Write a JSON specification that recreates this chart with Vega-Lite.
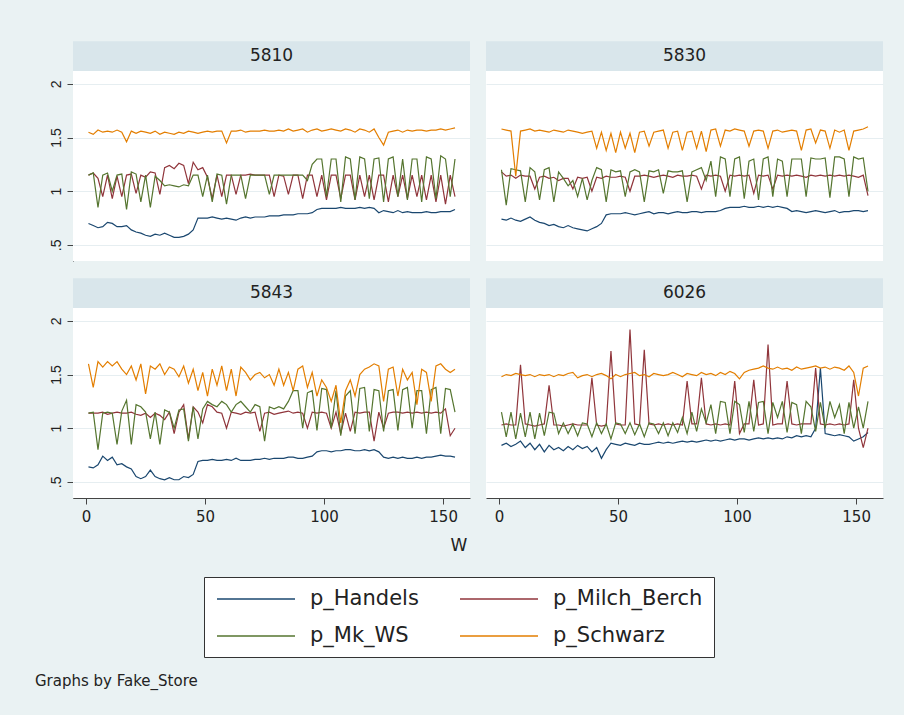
{
"$schema":"https://vega.github.io/schema/vega-lite/v6.json",
"background":"#EAF2F3",
"padding":{"left":35,"top":41,"right":21,"bottom":42},
"datasets":{"prices":[
{"f":"5810","w":1,"a":0.70,"b":1.15,"c":1.15,"d":1.55},
{"f":"5810","w":3,"a":0.68,"b":1.17,"c":1.17,"d":1.53},
{"f":"5810","w":5,"a":0.66,"b":1.12,"c":0.85,"d":1.57},
{"f":"5810","w":7,"a":0.67,"b":0.95,"c":1.15,"d":1.55},
{"f":"5810","w":9,"a":0.71,"b":1.15,"c":1.17,"d":1.56},
{"f":"5810","w":11,"a":0.70,"b":0.93,"c":1.00,"d":1.55},
{"f":"5810","w":13,"a":0.67,"b":1.14,"c":1.15,"d":1.57},
{"f":"5810","w":15,"a":0.67,"b":0.95,"c":1.16,"d":1.55},
{"f":"5810","w":17,"a":0.68,"b":1.15,"c":0.83,"d":1.46},
{"f":"5810","w":19,"a":0.64,"b":1.16,"c":1.18,"d":1.56},
{"f":"5810","w":21,"a":0.62,"b":0.98,"c":1.16,"d":1.54},
{"f":"5810","w":23,"a":0.61,"b":1.15,"c":0.90,"d":1.56},
{"f":"5810","w":25,"a":0.59,"b":1.13,"c":1.15,"d":1.55},
{"f":"5810","w":27,"a":0.58,"b":1.18,"c":0.85,"d":1.54},
{"f":"5810","w":29,"a":0.60,"b":1.17,"c":1.14,"d":1.56},
{"f":"5810","w":31,"a":0.59,"b":0.97,"c":1.10,"d":1.53},
{"f":"5810","w":33,"a":0.61,"b":1.22,"c":1.05,"d":1.55},
{"f":"5810","w":35,"a":0.59,"b":1.24,"c":1.06,"d":1.54},
{"f":"5810","w":37,"a":0.57,"b":1.21,"c":1.05,"d":1.53},
{"f":"5810","w":39,"a":0.57,"b":1.26,"c":1.04,"d":1.55},
{"f":"5810","w":41,"a":0.58,"b":1.24,"c":1.06,"d":1.54},
{"f":"5810","w":43,"a":0.60,"b":1.07,"c":1.05,"d":1.56},
{"f":"5810","w":45,"a":0.64,"b":1.27,"c":1.15,"d":1.55},
{"f":"5810","w":47,"a":0.75,"b":1.20,"c":1.15,"d":1.54},
{"f":"5810","w":49,"a":0.75,"b":1.22,"c":0.95,"d":1.55},
{"f":"5810","w":51,"a":0.75,"b":1.13,"c":1.15,"d":1.56},
{"f":"5810","w":53,"a":0.76,"b":0.93,"c":0.90,"d":1.55},
{"f":"5810","w":55,"a":0.75,"b":1.15,"c":1.16,"d":1.56},
{"f":"5810","w":57,"a":0.74,"b":0.95,"c":1.15,"d":1.56},
{"f":"5810","w":59,"a":0.75,"b":1.15,"c":0.88,"d":1.45},
{"f":"5810","w":61,"a":0.74,"b":1.15,"c":1.15,"d":1.56},
{"f":"5810","w":63,"a":0.73,"b":0.97,"c":1.15,"d":1.56},
{"f":"5810","w":65,"a":0.75,"b":1.15,"c":1.15,"d":1.57},
{"f":"5810","w":67,"a":0.76,"b":1.15,"c":0.93,"d":1.55},
{"f":"5810","w":69,"a":0.75,"b":1.16,"c":1.15,"d":1.56},
{"f":"5810","w":71,"a":0.76,"b":1.15,"c":1.15,"d":1.56},
{"f":"5810","w":73,"a":0.76,"b":1.15,"c":1.15,"d":1.56},
{"f":"5810","w":75,"a":0.76,"b":1.15,"c":1.15,"d":1.57},
{"f":"5810","w":77,"a":0.77,"b":1.15,"c":0.97,"d":1.56},
{"f":"5810","w":79,"a":0.77,"b":0.95,"c":1.15,"d":1.56},
{"f":"5810","w":81,"a":0.77,"b":1.15,"c":1.15,"d":1.57},
{"f":"5810","w":83,"a":0.78,"b":1.14,"c":1.15,"d":1.56},
{"f":"5810","w":85,"a":0.78,"b":0.97,"c":1.15,"d":1.58},
{"f":"5810","w":87,"a":0.78,"b":1.15,"c":1.15,"d":1.56},
{"f":"5810","w":89,"a":0.79,"b":1.15,"c":1.15,"d":1.57},
{"f":"5810","w":91,"a":0.79,"b":0.93,"c":1.15,"d":1.58},
{"f":"5810","w":93,"a":0.79,"b":1.15,"c":1.10,"d":1.55},
{"f":"5810","w":95,"a":0.80,"b":1.15,"c":1.25,"d":1.57},
{"f":"5810","w":97,"a":0.83,"b":0.95,"c":1.30,"d":1.58},
{"f":"5810","w":99,"a":0.84,"b":1.15,"c":1.30,"d":1.56},
{"f":"5810","w":101,"a":0.84,"b":0.92,"c":0.95,"d":1.57},
{"f":"5810","w":103,"a":0.84,"b":1.15,"c":1.30,"d":1.58},
{"f":"5810","w":105,"a":0.84,"b":1.15,"c":1.30,"d":1.57},
{"f":"5810","w":107,"a":0.85,"b":0.93,"c":0.90,"d":1.56},
{"f":"5810","w":109,"a":0.84,"b":1.15,"c":1.32,"d":1.58},
{"f":"5810","w":111,"a":0.84,"b":1.15,"c":1.30,"d":1.57},
{"f":"5810","w":113,"a":0.84,"b":0.92,"c":0.92,"d":1.55},
{"f":"5810","w":115,"a":0.85,"b":1.15,"c":1.32,"d":1.58},
{"f":"5810","w":117,"a":0.84,"b":0.95,"c":1.30,"d":1.57},
{"f":"5810","w":119,"a":0.85,"b":1.15,"c":0.93,"d":1.55},
{"f":"5810","w":121,"a":0.84,"b":0.92,"c":1.30,"d":1.58},
{"f":"5810","w":123,"a":0.80,"b":1.15,"c":1.31,"d":1.50},
{"f":"5810","w":125,"a":0.82,"b":1.15,"c":0.90,"d":1.43},
{"f":"5810","w":127,"a":0.81,"b":0.90,"c":1.30,"d":1.55},
{"f":"5810","w":129,"a":0.80,"b":1.15,"c":1.32,"d":1.56},
{"f":"5810","w":131,"a":0.82,"b":0.95,"c":0.95,"d":1.57},
{"f":"5810","w":133,"a":0.80,"b":1.15,"c":1.30,"d":1.55},
{"f":"5810","w":135,"a":0.81,"b":0.93,"c":0.92,"d":1.57},
{"f":"5810","w":137,"a":0.80,"b":1.15,"c":1.30,"d":1.56},
{"f":"5810","w":139,"a":0.80,"b":0.95,"c":1.30,"d":1.57},
{"f":"5810","w":141,"a":0.80,"b":1.15,"c":0.90,"d":1.57},
{"f":"5810","w":143,"a":0.81,"b":0.92,"c":1.32,"d":1.56},
{"f":"5810","w":145,"a":0.80,"b":1.15,"c":1.30,"d":1.57},
{"f":"5810","w":147,"a":0.80,"b":0.90,"c":0.93,"d":1.57},
{"f":"5810","w":149,"a":0.81,"b":1.15,"c":1.33,"d":1.58},
{"f":"5810","w":151,"a":0.81,"b":0.88,"c":1.30,"d":1.57},
{"f":"5810","w":153,"a":0.81,"b":1.15,"c":0.95,"d":1.58},
{"f":"5810","w":155,"a":0.83,"b":0.95,"c":1.30,"d":1.59},
{"f":"5830","w":1,"a":0.74,"b":1.18,"c":1.20,"d":1.58},
{"f":"5830","w":3,"a":0.73,"b":1.14,"c":0.87,"d":1.57},
{"f":"5830","w":5,"a":0.75,"b":1.15,"c":1.21,"d":1.56},
{"f":"5830","w":7,"a":0.73,"b":1.12,"c":1.20,"d":1.14},
{"f":"5830","w":9,"a":0.72,"b":1.15,"c":1.19,"d":1.56},
{"f":"5830","w":11,"a":0.74,"b":1.14,"c":0.90,"d":1.57},
{"f":"5830","w":13,"a":0.76,"b":1.14,"c":1.22,"d":1.58},
{"f":"5830","w":15,"a":0.73,"b":1.02,"c":1.18,"d":1.56},
{"f":"5830","w":17,"a":0.71,"b":1.13,"c":0.92,"d":1.57},
{"f":"5830","w":19,"a":0.70,"b":1.14,"c":1.20,"d":1.56},
{"f":"5830","w":21,"a":0.68,"b":1.12,"c":1.22,"d":1.55},
{"f":"5830","w":23,"a":0.69,"b":1.13,"c":0.90,"d":1.57},
{"f":"5830","w":25,"a":0.67,"b":1.10,"c":1.18,"d":1.56},
{"f":"5830","w":27,"a":0.66,"b":1.12,"c":1.12,"d":1.55},
{"f":"5830","w":29,"a":0.68,"b":1.12,"c":1.05,"d":1.57},
{"f":"5830","w":31,"a":0.66,"b":1.02,"c":1.10,"d":1.56},
{"f":"5830","w":33,"a":0.65,"b":1.13,"c":0.95,"d":1.55},
{"f":"5830","w":35,"a":0.64,"b":1.12,"c":1.12,"d":1.54},
{"f":"5830","w":37,"a":0.63,"b":1.13,"c":0.92,"d":1.55},
{"f":"5830","w":39,"a":0.65,"b":1.00,"c":1.10,"d":1.56},
{"f":"5830","w":41,"a":0.67,"b":1.13,"c":1.22,"d":1.40},
{"f":"5830","w":43,"a":0.70,"b":1.12,"c":1.20,"d":1.55},
{"f":"5830","w":45,"a":0.78,"b":1.14,"c":0.90,"d":1.38},
{"f":"5830","w":47,"a":0.79,"b":1.13,"c":1.20,"d":1.54},
{"f":"5830","w":49,"a":0.79,"b":1.13,"c":1.18,"d":1.36},
{"f":"5830","w":51,"a":0.79,"b":1.14,"c":1.19,"d":1.55},
{"f":"5830","w":53,"a":0.80,"b":1.13,"c":0.95,"d":1.40},
{"f":"5830","w":55,"a":0.79,"b":1.00,"c":1.18,"d":1.54},
{"f":"5830","w":57,"a":0.78,"b":1.14,"c":1.20,"d":1.36},
{"f":"5830","w":59,"a":0.79,"b":1.14,"c":1.18,"d":1.55},
{"f":"5830","w":61,"a":0.80,"b":1.15,"c":0.90,"d":1.56},
{"f":"5830","w":63,"a":0.81,"b":1.14,"c":1.19,"d":1.42},
{"f":"5830","w":65,"a":0.79,"b":1.13,"c":1.18,"d":1.55},
{"f":"5830","w":67,"a":0.80,"b":1.14,"c":1.20,"d":1.56},
{"f":"5830","w":69,"a":0.80,"b":1.15,"c":0.98,"d":1.57},
{"f":"5830","w":71,"a":0.79,"b":1.14,"c":1.19,"d":1.40},
{"f":"5830","w":73,"a":0.80,"b":1.13,"c":1.18,"d":1.55},
{"f":"5830","w":75,"a":0.81,"b":1.15,"c":1.18,"d":1.56},
{"f":"5830","w":77,"a":0.80,"b":1.14,"c":1.19,"d":1.38},
{"f":"5830","w":79,"a":0.80,"b":1.14,"c":0.90,"d":1.55},
{"f":"5830","w":81,"a":0.81,"b":1.15,"c":1.18,"d":1.56},
{"f":"5830","w":83,"a":0.81,"b":1.14,"c":1.20,"d":1.40},
{"f":"5830","w":85,"a":0.80,"b":1.02,"c":1.22,"d":1.56},
{"f":"5830","w":87,"a":0.81,"b":1.15,"c":1.10,"d":1.37},
{"f":"5830","w":89,"a":0.81,"b":1.14,"c":1.28,"d":1.57},
{"f":"5830","w":91,"a":0.81,"b":1.15,"c":0.95,"d":1.58},
{"f":"5830","w":93,"a":0.82,"b":1.14,"c":1.32,"d":1.42},
{"f":"5830","w":95,"a":0.84,"b":1.00,"c":1.30,"d":1.57},
{"f":"5830","w":97,"a":0.85,"b":1.15,"c":0.95,"d":1.56},
{"f":"5830","w":99,"a":0.85,"b":1.14,"c":1.30,"d":1.58},
{"f":"5830","w":101,"a":0.85,"b":1.15,"c":1.32,"d":1.57},
{"f":"5830","w":103,"a":0.86,"b":1.14,"c":0.93,"d":1.56},
{"f":"5830","w":105,"a":0.85,"b":1.15,"c":1.28,"d":1.42},
{"f":"5830","w":107,"a":0.85,"b":0.98,"c":1.30,"d":1.56},
{"f":"5830","w":109,"a":0.86,"b":1.15,"c":0.92,"d":1.57},
{"f":"5830","w":111,"a":0.85,"b":1.14,"c":1.30,"d":1.56},
{"f":"5830","w":113,"a":0.86,"b":1.15,"c":1.32,"d":1.40},
{"f":"5830","w":115,"a":0.85,"b":1.02,"c":0.95,"d":1.56},
{"f":"5830","w":117,"a":0.86,"b":1.15,"c":1.30,"d":1.57},
{"f":"5830","w":119,"a":0.85,"b":1.14,"c":1.28,"d":1.55},
{"f":"5830","w":121,"a":0.84,"b":1.15,"c":0.95,"d":1.56},
{"f":"5830","w":123,"a":0.81,"b":1.14,"c":1.30,"d":1.57},
{"f":"5830","w":125,"a":0.82,"b":1.15,"c":1.30,"d":1.56},
{"f":"5830","w":127,"a":0.81,"b":1.14,"c":1.30,"d":1.38},
{"f":"5830","w":129,"a":0.80,"b":1.13,"c":0.95,"d":1.57},
{"f":"5830","w":131,"a":0.81,"b":1.15,"c":1.31,"d":1.58},
{"f":"5830","w":133,"a":0.82,"b":1.14,"c":1.30,"d":1.45},
{"f":"5830","w":135,"a":0.81,"b":1.15,"c":1.30,"d":1.57},
{"f":"5830","w":137,"a":0.80,"b":1.14,"c":1.31,"d":1.56},
{"f":"5830","w":139,"a":0.81,"b":1.15,"c":0.94,"d":1.40},
{"f":"5830","w":141,"a":0.82,"b":1.14,"c":1.32,"d":1.57},
{"f":"5830","w":143,"a":0.80,"b":1.15,"c":1.32,"d":1.55},
{"f":"5830","w":145,"a":0.81,"b":1.14,"c":1.30,"d":1.57},
{"f":"5830","w":147,"a":0.81,"b":1.15,"c":0.95,"d":1.38},
{"f":"5830","w":149,"a":0.82,"b":1.14,"c":1.32,"d":1.56},
{"f":"5830","w":151,"a":0.82,"b":1.13,"c":1.30,"d":1.57},
{"f":"5830","w":153,"a":0.81,"b":1.15,"c":1.31,"d":1.58},
{"f":"5830","w":155,"a":0.82,"b":0.96,"c":1.00,"d":1.60},
{"f":"5843","w":1,"a":0.64,"b":1.14,"c":1.14,"d":1.60},
{"f":"5843","w":3,"a":0.63,"b":1.14,"c":1.15,"d":1.38},
{"f":"5843","w":5,"a":0.66,"b":1.14,"c":0.80,"d":1.62},
{"f":"5843","w":7,"a":0.74,"b":1.15,"c":1.14,"d":1.57},
{"f":"5843","w":9,"a":0.70,"b":1.13,"c":1.15,"d":1.62},
{"f":"5843","w":11,"a":0.73,"b":1.14,"c":1.14,"d":1.58},
{"f":"5843","w":13,"a":0.66,"b":1.15,"c":0.85,"d":1.62},
{"f":"5843","w":15,"a":0.67,"b":1.14,"c":1.16,"d":1.55},
{"f":"5843","w":17,"a":0.64,"b":1.14,"c":1.26,"d":1.50},
{"f":"5843","w":19,"a":0.62,"b":1.15,"c":0.85,"d":1.58},
{"f":"5843","w":21,"a":0.55,"b":1.13,"c":1.22,"d":1.45},
{"f":"5843","w":23,"a":0.53,"b":1.12,"c":1.20,"d":1.60},
{"f":"5843","w":25,"a":0.55,"b":1.14,"c":1.15,"d":1.32},
{"f":"5843","w":27,"a":0.61,"b":1.10,"c":0.90,"d":1.58},
{"f":"5843","w":29,"a":0.55,"b":1.14,"c":1.15,"d":1.55},
{"f":"5843","w":31,"a":0.53,"b":1.12,"c":0.85,"d":1.60},
{"f":"5843","w":33,"a":0.52,"b":1.08,"c":1.17,"d":1.50},
{"f":"5843","w":35,"a":0.54,"b":1.15,"c":1.15,"d":1.57},
{"f":"5843","w":37,"a":0.52,"b":0.95,"c":1.00,"d":1.55},
{"f":"5843","w":39,"a":0.52,"b":1.15,"c":1.17,"d":1.48},
{"f":"5843","w":41,"a":0.55,"b":1.22,"c":1.18,"d":1.58},
{"f":"5843","w":43,"a":0.54,"b":0.90,"c":0.88,"d":1.42},
{"f":"5843","w":45,"a":0.57,"b":1.20,"c":1.20,"d":1.55},
{"f":"5843","w":47,"a":0.69,"b":1.15,"c":0.90,"d":1.35},
{"f":"5843","w":49,"a":0.70,"b":1.05,"c":1.18,"d":1.52},
{"f":"5843","w":51,"a":0.70,"b":1.22,"c":1.25,"d":1.30},
{"f":"5843","w":53,"a":0.71,"b":1.20,"c":1.22,"d":1.55},
{"f":"5843","w":55,"a":0.70,"b":1.15,"c":1.20,"d":1.40},
{"f":"5843","w":57,"a":0.70,"b":1.14,"c":1.25,"d":1.58},
{"f":"5843","w":59,"a":0.71,"b":1.00,"c":1.22,"d":1.35},
{"f":"5843","w":61,"a":0.70,"b":1.15,"c":1.15,"d":1.55},
{"f":"5843","w":63,"a":0.72,"b":1.14,"c":1.22,"d":1.30},
{"f":"5843","w":65,"a":0.70,"b":1.13,"c":1.25,"d":1.57},
{"f":"5843","w":67,"a":0.70,"b":1.15,"c":1.20,"d":1.52},
{"f":"5843","w":69,"a":0.70,"b":1.14,"c":1.15,"d":1.45},
{"f":"5843","w":71,"a":0.71,"b":1.15,"c":1.22,"d":1.50},
{"f":"5843","w":73,"a":0.71,"b":0.97,"c":1.20,"d":1.52},
{"f":"5843","w":75,"a":0.72,"b":1.14,"c":0.88,"d":1.47},
{"f":"5843","w":77,"a":0.71,"b":1.15,"c":1.20,"d":1.50},
{"f":"5843","w":79,"a":0.72,"b":1.13,"c":1.18,"d":1.40},
{"f":"5843","w":81,"a":0.72,"b":1.14,"c":1.20,"d":1.55},
{"f":"5843","w":83,"a":0.72,"b":1.15,"c":1.18,"d":1.40},
{"f":"5843","w":85,"a":0.73,"b":1.16,"c":1.25,"d":1.52},
{"f":"5843","w":87,"a":0.73,"b":1.14,"c":1.35,"d":1.35},
{"f":"5843","w":89,"a":0.72,"b":1.15,"c":1.35,"d":1.55},
{"f":"5843","w":91,"a":0.72,"b":1.14,"c":1.00,"d":1.58},
{"f":"5843","w":93,"a":0.73,"b":1.00,"c":1.33,"d":1.38},
{"f":"5843","w":95,"a":0.74,"b":1.15,"c":1.35,"d":1.52},
{"f":"5843","w":97,"a":0.78,"b":1.14,"c":0.98,"d":1.30},
{"f":"5843","w":99,"a":0.79,"b":1.15,"c":1.37,"d":1.45},
{"f":"5843","w":101,"a":0.79,"b":1.14,"c":1.36,"d":1.38},
{"f":"5843","w":103,"a":0.78,"b":1.00,"c":1.00,"d":1.25},
{"f":"5843","w":105,"a":0.79,"b":1.15,"c":1.35,"d":1.40},
{"f":"5843","w":107,"a":0.79,"b":0.95,"c":0.93,"d":1.05},
{"f":"5843","w":109,"a":0.80,"b":1.14,"c":1.30,"d":1.35},
{"f":"5843","w":111,"a":0.80,"b":0.97,"c":1.35,"d":1.45},
{"f":"5843","w":113,"a":0.79,"b":1.15,"c":0.95,"d":1.30},
{"f":"5843","w":115,"a":0.79,"b":1.14,"c":1.37,"d":1.50},
{"f":"5843","w":117,"a":0.80,"b":1.15,"c":1.38,"d":1.55},
{"f":"5843","w":119,"a":0.79,"b":1.15,"c":0.97,"d":1.57},
{"f":"5843","w":121,"a":0.80,"b":0.88,"c":1.36,"d":1.60},
{"f":"5843","w":123,"a":0.78,"b":1.15,"c":1.35,"d":1.58},
{"f":"5843","w":125,"a":0.73,"b":1.00,"c":0.97,"d":1.25},
{"f":"5843","w":127,"a":0.72,"b":1.14,"c":1.35,"d":1.55},
{"f":"5843","w":129,"a":0.73,"b":1.15,"c":1.36,"d":1.57},
{"f":"5843","w":131,"a":0.72,"b":1.15,"c":0.98,"d":1.30},
{"f":"5843","w":133,"a":0.73,"b":1.14,"c":1.36,"d":1.55},
{"f":"5843","w":135,"a":0.72,"b":1.15,"c":1.38,"d":1.45},
{"f":"5843","w":137,"a":0.72,"b":1.14,"c":1.00,"d":1.52},
{"f":"5843","w":139,"a":0.73,"b":1.15,"c":1.35,"d":1.22},
{"f":"5843","w":141,"a":0.72,"b":1.14,"c":1.35,"d":1.55},
{"f":"5843","w":143,"a":0.73,"b":1.15,"c":0.95,"d":1.52},
{"f":"5843","w":145,"a":0.73,"b":1.14,"c":1.36,"d":1.25},
{"f":"5843","w":147,"a":0.74,"b":1.15,"c":1.38,"d":1.58},
{"f":"5843","w":149,"a":0.75,"b":1.14,"c":0.95,"d":1.60},
{"f":"5843","w":151,"a":0.74,"b":1.18,"c":1.37,"d":1.55},
{"f":"5843","w":153,"a":0.74,"b":0.93,"c":1.36,"d":1.52},
{"f":"5843","w":155,"a":0.73,"b":1.00,"c":1.15,"d":1.55},
{"f":"6026","w":1,"a":0.84,"b":1.03,"c":1.15,"d":1.48},
{"f":"6026","w":3,"a":0.86,"b":1.04,"c":0.92,"d":1.50},
{"f":"6026","w":5,"a":0.83,"b":1.03,"c":1.15,"d":1.49},
{"f":"6026","w":7,"a":0.85,"b":1.03,"c":0.90,"d":1.51},
{"f":"6026","w":9,"a":0.88,"b":1.59,"c":1.14,"d":1.50},
{"f":"6026","w":11,"a":0.82,"b":1.04,"c":0.92,"d":1.49},
{"f":"6026","w":13,"a":0.86,"b":1.03,"c":1.15,"d":1.50},
{"f":"6026","w":15,"a":0.80,"b":1.02,"c":0.90,"d":1.48},
{"f":"6026","w":17,"a":0.85,"b":1.03,"c":1.14,"d":1.50},
{"f":"6026","w":19,"a":0.78,"b":1.04,"c":0.93,"d":1.49},
{"f":"6026","w":21,"a":0.84,"b":1.40,"c":1.15,"d":1.50},
{"f":"6026","w":23,"a":0.80,"b":1.03,"c":1.14,"d":1.48},
{"f":"6026","w":25,"a":0.82,"b":1.03,"c":0.95,"d":1.50},
{"f":"6026","w":27,"a":0.79,"b":1.02,"c":1.05,"d":1.49},
{"f":"6026","w":29,"a":0.83,"b":1.03,"c":0.95,"d":1.51},
{"f":"6026","w":31,"a":0.80,"b":1.04,"c":1.04,"d":1.52},
{"f":"6026","w":33,"a":0.84,"b":1.03,"c":0.93,"d":1.47},
{"f":"6026","w":35,"a":0.81,"b":1.03,"c":1.05,"d":1.49},
{"f":"6026","w":37,"a":0.83,"b":1.03,"c":1.04,"d":1.50},
{"f":"6026","w":39,"a":0.78,"b":1.47,"c":0.92,"d":1.48},
{"f":"6026","w":41,"a":0.82,"b":1.03,"c":1.05,"d":1.50},
{"f":"6026","w":43,"a":0.72,"b":1.02,"c":0.95,"d":1.51},
{"f":"6026","w":45,"a":0.80,"b":1.03,"c":1.04,"d":1.49},
{"f":"6026","w":47,"a":0.86,"b":1.72,"c":0.90,"d":1.46},
{"f":"6026","w":49,"a":0.85,"b":1.04,"c":1.05,"d":1.50},
{"f":"6026","w":51,"a":0.84,"b":1.03,"c":1.04,"d":1.48},
{"f":"6026","w":53,"a":0.86,"b":1.03,"c":0.95,"d":1.50},
{"f":"6026","w":55,"a":0.85,"b":1.92,"c":1.05,"d":1.51},
{"f":"6026","w":57,"a":0.84,"b":1.04,"c":0.94,"d":1.52},
{"f":"6026","w":59,"a":0.86,"b":1.03,"c":1.04,"d":1.49},
{"f":"6026","w":61,"a":0.85,"b":1.73,"c":0.92,"d":1.50},
{"f":"6026","w":63,"a":0.85,"b":1.04,"c":1.05,"d":1.48},
{"f":"6026","w":65,"a":0.86,"b":1.03,"c":1.04,"d":1.51},
{"f":"6026","w":67,"a":0.87,"b":1.04,"c":0.95,"d":1.50},
{"f":"6026","w":69,"a":0.86,"b":1.03,"c":1.05,"d":1.49},
{"f":"6026","w":71,"a":0.87,"b":1.04,"c":0.93,"d":1.50},
{"f":"6026","w":73,"a":0.86,"b":1.03,"c":1.05,"d":1.52},
{"f":"6026","w":75,"a":0.87,"b":1.04,"c":0.96,"d":1.50},
{"f":"6026","w":77,"a":0.88,"b":1.03,"c":1.10,"d":1.48},
{"f":"6026","w":79,"a":0.87,"b":1.44,"c":0.95,"d":1.51},
{"f":"6026","w":81,"a":0.88,"b":1.04,"c":1.15,"d":1.50},
{"f":"6026","w":83,"a":0.87,"b":1.04,"c":0.97,"d":1.49},
{"f":"6026","w":85,"a":0.88,"b":1.47,"c":1.18,"d":1.52},
{"f":"6026","w":87,"a":0.89,"b":1.04,"c":1.05,"d":1.50},
{"f":"6026","w":89,"a":0.88,"b":1.03,"c":1.22,"d":1.51},
{"f":"6026","w":91,"a":0.89,"b":1.04,"c":0.95,"d":1.49},
{"f":"6026","w":93,"a":0.88,"b":1.03,"c":1.25,"d":1.52},
{"f":"6026","w":95,"a":0.89,"b":1.04,"c":1.24,"d":1.50},
{"f":"6026","w":97,"a":0.90,"b":1.03,"c":0.95,"d":1.53},
{"f":"6026","w":99,"a":0.89,"b":1.44,"c":1.25,"d":1.51},
{"f":"6026","w":101,"a":0.90,"b":0.95,"c":1.22,"d":1.46},
{"f":"6026","w":103,"a":0.90,"b":1.04,"c":0.96,"d":1.52},
{"f":"6026","w":105,"a":0.89,"b":1.04,"c":1.25,"d":1.54},
{"f":"6026","w":107,"a":0.90,"b":1.45,"c":0.97,"d":1.55},
{"f":"6026","w":109,"a":0.91,"b":1.03,"c":1.24,"d":1.56},
{"f":"6026","w":111,"a":0.90,"b":1.04,"c":1.25,"d":1.58},
{"f":"6026","w":113,"a":0.91,"b":1.78,"c":0.95,"d":1.56},
{"f":"6026","w":115,"a":0.90,"b":1.03,"c":1.24,"d":1.55},
{"f":"6026","w":117,"a":0.91,"b":1.04,"c":1.10,"d":1.57},
{"f":"6026","w":119,"a":0.90,"b":1.04,"c":1.25,"d":1.55},
{"f":"6026","w":121,"a":0.92,"b":1.44,"c":0.96,"d":1.56},
{"f":"6026","w":123,"a":0.91,"b":1.04,"c":1.24,"d":1.54},
{"f":"6026","w":125,"a":0.93,"b":1.03,"c":1.22,"d":1.57},
{"f":"6026","w":127,"a":0.92,"b":1.04,"c":0.95,"d":1.55},
{"f":"6026","w":129,"a":0.93,"b":1.04,"c":1.25,"d":1.56},
{"f":"6026","w":131,"a":0.92,"b":1.04,"c":1.20,"d":1.57},
{"f":"6026","w":133,"a":1.00,"b":1.56,"c":0.97,"d":1.58},
{"f":"6026","w":135,"a":1.56,"b":1.04,"c":1.24,"d":1.56},
{"f":"6026","w":137,"a":0.95,"b":1.03,"c":1.00,"d":1.57},
{"f":"6026","w":139,"a":0.94,"b":1.04,"c":1.25,"d":1.55},
{"f":"6026","w":141,"a":0.93,"b":1.03,"c":1.10,"d":1.57},
{"f":"6026","w":143,"a":0.94,"b":1.04,"c":1.22,"d":1.56},
{"f":"6026","w":145,"a":0.93,"b":1.03,"c":0.95,"d":1.54},
{"f":"6026","w":147,"a":0.92,"b":1.04,"c":1.24,"d":1.58},
{"f":"6026","w":149,"a":0.88,"b":1.45,"c":1.00,"d":1.52},
{"f":"6026","w":151,"a":0.90,"b":1.00,"c":1.20,"d":1.30},
{"f":"6026","w":153,"a":0.92,"b":0.82,"c":1.00,"d":1.56},
{"f":"6026","w":155,"a":0.96,"b":1.00,"c":1.25,"d":1.58}
]},
"title":{"text":"Graphs by Fake_Store","orient":"bottom","anchor":"start","font":"DejaVu Sans","fontSize":15,"fontWeight":"normal","color":"#222","offset":16},
"vconcat":[
{
 "data":{"name":"prices"},
 "transform":[{"fold":["a","b","c","d"],"as":["series","price"]}],
 "title":{"text":"W","orient":"bottom","anchor":"middle","font":"DejaVu Sans","fontSize":17,"fontWeight":"normal","color":"#222","offset":14},
 "facet":{"field":"f","type":"nominal","header":{"labels":false,"labelExpr":"''","labelFontSize":0,"labelPadding":0,"title":null}},
 "columns":2,
 "bounds":"flush",
 "spacing":{"row":47,"column":16},
 "spec":{
  "width":397,"height":190,
  "layer":[
   {"transform":[{"aggregate":[{"op":"count","as":"n"}],"groupby":["f"]}],
    "mark":{"type":"rect","fill":"#D9E6EB","clip":false},
    "encoding":{"x":{"datum":-5.5,"type":"quantitative"},"x2":{"datum":161.3},"y":{"datum":2.12,"type":"quantitative"},"y2":{"datum":2.398}}},
   {"transform":[{"aggregate":[{"op":"count","as":"n"}],"groupby":["f"]}],
    "mark":{"type":"text","font":"DejaVu Sans","fontSize":17,"color":"#222","clip":false},
    "encoding":{"x":{"datum":77.9,"type":"quantitative"},"y":{"datum":2.259,"type":"quantitative"},"text":{"field":"f","type":"nominal"}}},
   {"mark":{"type":"line","strokeWidth":1.2},
    "encoding":{
     "x":{"field":"w","type":"quantitative","scale":{"domain":[-5.5,161.3],"nice":false,"zero":false},"axis":{"values":[0,50,100,150],"title":null,"grid":false,"tickSize":6,"labelPadding":5,"labelFont":"DejaVu Sans","labelFontSize":15,"labelColor":"#222","domainColor":"#444","tickColor":"#444","labelFlush":false}},
     "y":{"field":"price","type":"quantitative","scale":{"domain":[0.35,2.12],"nice":false,"zero":false},"axis":{"values":[0.5,1,1.5,2],"labelExpr":"datum.value==0.5?'.5':format(datum.value,'~g')","title":null,"grid":true,"gridColor":"#E6EEF1","tickSize":6,"labelAngle":-90,"labelAlign":"center","labelBaseline":"bottom","labelPadding":4,"labelFont":"Liberation Sans Narrow, Liberation Sans","labelFontSize":14,"labelColor":"#222","domainColor":"#444","tickColor":"#444","minExtent":38,"maxExtent":38,"labelFlush":false}},
     "color":{"field":"series","type":"nominal","scale":{"domain":["a","b","c","d"],"range":["#1A476F","#90353B","#55752F","#E37E00"]},"legend":{"title":null,"orient":"bottom","direction":"horizontal","columns":2,"labelExpr":"{'a':'p_Handels','b':'p_Milch_Berch','c':'p_Mk_WS','d':'p_Schwarz'}[datum.label]"}}
    }}
  ]
 }
}
],
"config":{
 "view":{"stroke":null,"fill":"white"},
 "headerFacet":{"labels":false,"title":null,"labelPadding":0},
 "header":{"labels":false,"labelPadding":0},
 "legend":{"strokeColor":"#333","fillColor":"white","padding":11,"symbolType":"M-3.9,0H3.9","symbolSize":400,"symbolOffset":30,"symbolStrokeWidth":1.5,"labelFont":"DejaVu Sans","labelFontSize":21,"labelColor":"#222","columnPadding":38,"rowPadding":16,"labelOffset":43,"offset":23,"layout":{"bottom":{"anchor":"middle"}}}
}
}
